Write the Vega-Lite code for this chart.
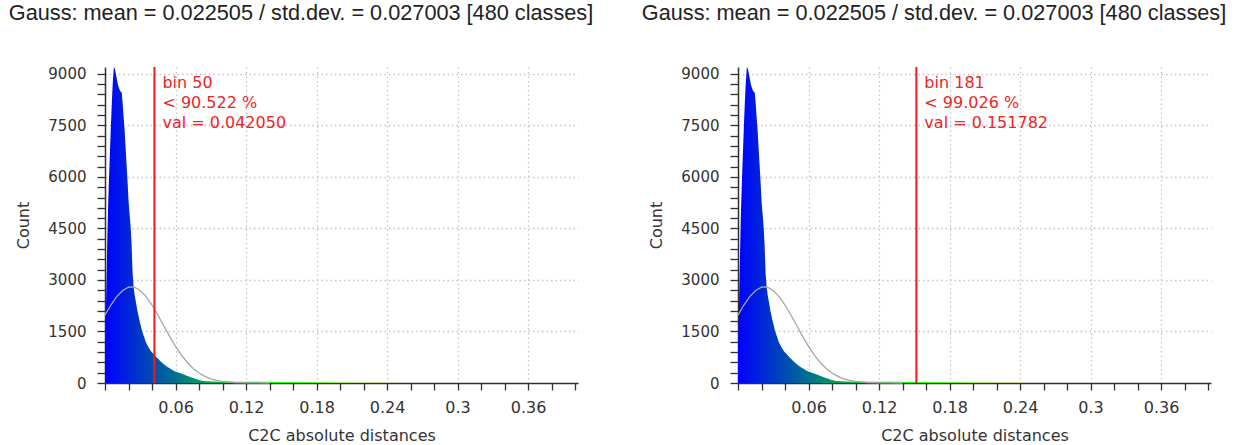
{
  "$schema": "https://vega.github.io/schema/vega-lite/v6.json",
  "padding": {"left": 8, "top": 3, "right": 0, "bottom": 0},
  "spacing": 47,
  "background": "white",
  "config": {
    "view": {"stroke": null},
    "font": "DejaVu Sans",
    "title": {"font": "Liberation Sans", "fontSize": 21.7, "fontWeight": "normal", "color": "#222222", "anchor": "start", "frame": "bounds", "offset": 41},
    "axis": {"domainColor": "#303030", "domainWidth": 1.5, "tickColor": "#303030", "tickWidth": 1.3, "labelFont": "DejaVu Sans", "labelColor": "#333333", "titleFont": "DejaVu Sans", "titleFontSize": 16, "titleFontWeight": "normal", "titleColor": "#333333", "gridColor": "#c4c4c4", "gridDash": [1.5, 3], "gridWidth": 1.3, "labelOverlap": false, "labelFlush": false, "tickCount": 100}
  },
  "datasets": {
    "hist": [
      {"d": 0, "c": 900}, {"d": 0.00084, "c": 2200}, {"d": 0.00168, "c": 3700}, {"d": 0.00252, "c": 5000},
      {"d": 0.00336, "c": 5900}, {"d": 0.0042, "c": 6700}, {"d": 0.00503, "c": 7500}, {"d": 0.00587, "c": 8200},
      {"d": 0.00671, "c": 8800}, {"d": 0.00755, "c": 9200}, {"d": 0.00839, "c": 9150}, {"d": 0.00923, "c": 9000},
      {"d": 0.01007, "c": 8850}, {"d": 0.01091, "c": 8700}, {"d": 0.01175, "c": 8600}, {"d": 0.01259, "c": 8520},
      {"d": 0.01342, "c": 8480}, {"d": 0.01426, "c": 8450}, {"d": 0.0151, "c": 8100}, {"d": 0.01594, "c": 7700},
      {"d": 0.01678, "c": 7300}, {"d": 0.01762, "c": 6800}, {"d": 0.01846, "c": 6300}, {"d": 0.0193, "c": 5800},
      {"d": 0.02014, "c": 5250}, {"d": 0.02098, "c": 4900}, {"d": 0.02181, "c": 4550}, {"d": 0.02265, "c": 4000},
      {"d": 0.02349, "c": 3200}, {"d": 0.02433, "c": 2800}, {"d": 0.02517, "c": 2580}, {"d": 0.02601, "c": 2420},
      {"d": 0.02685, "c": 2250}, {"d": 0.02769, "c": 2080}, {"d": 0.02853, "c": 1950}, {"d": 0.02937, "c": 1820},
      {"d": 0.0302, "c": 1700}, {"d": 0.03104, "c": 1580}, {"d": 0.03188, "c": 1480}, {"d": 0.03272, "c": 1400},
      {"d": 0.03356, "c": 1320}, {"d": 0.0344, "c": 1220}, {"d": 0.03524, "c": 1160}, {"d": 0.03608, "c": 1100},
      {"d": 0.03692, "c": 1050}, {"d": 0.03776, "c": 1000}, {"d": 0.03859, "c": 950}, {"d": 0.03943, "c": 910},
      {"d": 0.04027, "c": 880}, {"d": 0.04111, "c": 850}, {"d": 0.04195, "c": 820}, {"d": 0.04363, "c": 760},
      {"d": 0.04531, "c": 700}, {"d": 0.04698, "c": 640}, {"d": 0.04866, "c": 590}, {"d": 0.05034, "c": 540},
      {"d": 0.05286, "c": 470}, {"d": 0.05537, "c": 420}, {"d": 0.05873, "c": 350}, {"d": 0.06293, "c": 300},
      {"d": 0.06712, "c": 250}, {"d": 0.07132, "c": 190}, {"d": 0.07551, "c": 140}, {"d": 0.07971, "c": 90},
      {"d": 0.0839, "c": 55}, {"d": 0.09229, "c": 42}, {"d": 0.10068, "c": 40}, {"d": 0.11746, "c": 38},
      {"d": 0.13424, "c": 35}, {"d": 0.15102, "c": 32}, {"d": 0.1678, "c": 28}, {"d": 0.18458, "c": 22},
      {"d": 0.20136, "c": 16}, {"d": 0.21814, "c": 10}, {"d": 0.23492, "c": 6}, {"d": 0.2517, "c": 3},
      {"d": 0.27687, "c": 1}, {"d": 0.31882, "c": 0}, {"d": 0.36077, "c": 0}, {"d": 0.4025, "c": 0}
    ],
    "gauss": [
      {"d": 0, "g": 1978}, {"d": 0.005, "g": 2270}, {"d": 0.01, "g": 2515}, {"d": 0.015, "g": 2694},
      {"d": 0.02, "g": 2788}, {"d": 0.0225, "g": 2800}, {"d": 0.025, "g": 2788}, {"d": 0.03, "g": 2694},
      {"d": 0.035, "g": 2515}, {"d": 0.04, "g": 2270}, {"d": 0.045, "g": 1979}, {"d": 0.05, "g": 1667},
      {"d": 0.055, "g": 1357}, {"d": 0.06, "g": 1068}, {"d": 0.065, "g": 811}, {"d": 0.07, "g": 596},
      {"d": 0.075, "g": 423}, {"d": 0.08, "g": 290}, {"d": 0.085, "g": 192}, {"d": 0.09, "g": 123},
      {"d": 0.095, "g": 76}, {"d": 0.1, "g": 46}, {"d": 0.11, "g": 15}, {"d": 0.12, "g": 4},
      {"d": 0.13, "g": 1}, {"d": 0.14, "g": 0}
    ]
  },
  "hconcat": [
    {
      "width": 473, "height": 316,
      "title": {"text": "Gauss: mean = 0.022505 / std.dev. = 0.027003 [480 classes]", "dx": -7},
      "layer": [
        {
          "data": {"name": "hist"},
          "mark": {"type": "area", "interpolate": "linear", "color": {"gradient": "linear", "x1": 0, "y1": 0, "x2": 1, "y2": 0, "stops": [{"offset": 0, "color": "#0000ff"}, {"offset": 0.333, "color": "#00ff00"}, {"offset": 0.667, "color": "#ffff00"}, {"offset": 1, "color": "#ff0000"}]}},
          "encoding": {
            "x": {"field": "d", "type": "quantitative", "scale": {"domain": [0, 0.4025], "nice": false, "zero": false},
              "axis": {"title": "C2C absolute distances", "values": [0, 0.02, 0.04, 0.06, 0.08, 0.1, 0.12, 0.14, 0.16, 0.18, 0.2, 0.22, 0.24, 0.26, 0.28, 0.3, 0.32, 0.34, 0.36, 0.38, 0.4],
                "labelExpr": "datum.value > 0.001 && abs(datum.value / 0.06 - round(datum.value / 0.06)) < 0.01 ? format(datum.value, '~g') : ''",
                "gridOpacity": {"condition": {"test": "datum.value > 0.001 && abs(datum.value / 0.06 - round(datum.value / 0.06)) < 0.01", "value": 1}, "value": 0},
                "tickSize": 7, "labelPadding": 9, "labelFontSize": 16, "titlePadding": 12}},
            "y": {"field": "c", "type": "quantitative", "scale": {"domain": [0, 9200], "nice": false},
              "axis": {"title": "Count", "values": [0, 300, 600, 900, 1200, 1500, 1800, 2100, 2400, 2700, 3000, 3300, 3600, 3900, 4200, 4500, 4800, 5100, 5400, 5700, 6000, 6300, 6600, 6900, 7200, 7500, 7800, 8100, 8400, 8700, 9000],
                "labelExpr": "datum.value % 1500 == 0 ? format(datum.value, 'd') : ''",
                "gridOpacity": {"condition": {"test": "datum.value % 1500 == 0 && datum.value > 0", "value": 1}, "value": 0},
                "tickSize": 8, "labelPadding": 11, "labelFontSize": 15, "titlePadding": 16}}
          }
        },
        {
          "data": {"name": "gauss"},
          "mark": {"type": "line", "color": "#a6a6a6", "strokeWidth": 1.3},
          "encoding": {"x": {"field": "d", "type": "quantitative"}, "y": {"field": "g", "type": "quantitative"}}
        },
        {
          "data": {"values": [{"d": 0.04205, "top": 9200, "label": "bin 50\n< 90.522 %\nval = 0.042050"}]},
          "layer": [
            {"mark": {"type": "rule", "color": "#f01c1c", "strokeWidth": 2}, "encoding": {"x": {"field": "d", "type": "quantitative"}}},
            {"mark": {"type": "text", "align": "left", "baseline": "top", "dx": 8, "dy": 8, "color": "#f02424", "font": "DejaVu Sans", "fontSize": 16, "lineBreak": "\n", "lineHeight": 20},
              "encoding": {"x": {"field": "d", "type": "quantitative"}, "y": {"field": "top", "type": "quantitative"}, "text": {"field": "label"}}}
          ]
        }
      ]
    },
    {
      "width": 473, "height": 316,
      "title": {"text": "Gauss: mean = 0.022505 / std.dev. = 0.027003 [480 classes]", "dx": -7},
      "layer": [
        {
          "data": {"name": "hist"},
          "mark": {"type": "area", "interpolate": "linear", "color": {"gradient": "linear", "x1": 0, "y1": 0, "x2": 1, "y2": 0, "stops": [{"offset": 0, "color": "#0000ff"}, {"offset": 0.333, "color": "#00ff00"}, {"offset": 0.667, "color": "#ffff00"}, {"offset": 1, "color": "#ff0000"}]}},
          "encoding": {
            "x": {"field": "d", "type": "quantitative", "scale": {"domain": [0, 0.4025], "nice": false, "zero": false},
              "axis": {"title": "C2C absolute distances", "values": [0, 0.02, 0.04, 0.06, 0.08, 0.1, 0.12, 0.14, 0.16, 0.18, 0.2, 0.22, 0.24, 0.26, 0.28, 0.3, 0.32, 0.34, 0.36, 0.38, 0.4],
                "labelExpr": "datum.value > 0.001 && abs(datum.value / 0.06 - round(datum.value / 0.06)) < 0.01 ? format(datum.value, '~g') : ''",
                "gridOpacity": {"condition": {"test": "datum.value > 0.001 && abs(datum.value / 0.06 - round(datum.value / 0.06)) < 0.01", "value": 1}, "value": 0},
                "tickSize": 7, "labelPadding": 9, "labelFontSize": 16, "titlePadding": 12}},
            "y": {"field": "c", "type": "quantitative", "scale": {"domain": [0, 9200], "nice": false},
              "axis": {"title": "Count", "values": [0, 300, 600, 900, 1200, 1500, 1800, 2100, 2400, 2700, 3000, 3300, 3600, 3900, 4200, 4500, 4800, 5100, 5400, 5700, 6000, 6300, 6600, 6900, 7200, 7500, 7800, 8100, 8400, 8700, 9000],
                "labelExpr": "datum.value % 1500 == 0 ? format(datum.value, 'd') : ''",
                "gridOpacity": {"condition": {"test": "datum.value % 1500 == 0 && datum.value > 0", "value": 1}, "value": 0},
                "tickSize": 8, "labelPadding": 11, "labelFontSize": 15, "titlePadding": 16}}
          }
        },
        {
          "data": {"name": "gauss"},
          "mark": {"type": "line", "color": "#a6a6a6", "strokeWidth": 1.3},
          "encoding": {"x": {"field": "d", "type": "quantitative"}, "y": {"field": "g", "type": "quantitative"}}
        },
        {
          "data": {"values": [{"d": 0.151782, "top": 9200, "label": "bin 181\n< 99.026 %\nval = 0.151782"}]},
          "layer": [
            {"mark": {"type": "rule", "color": "#f01c1c", "strokeWidth": 2}, "encoding": {"x": {"field": "d", "type": "quantitative"}}},
            {"mark": {"type": "text", "align": "left", "baseline": "top", "dx": 8, "dy": 8, "color": "#f02424", "font": "DejaVu Sans", "fontSize": 16, "lineBreak": "\n", "lineHeight": 20},
              "encoding": {"x": {"field": "d", "type": "quantitative"}, "y": {"field": "top", "type": "quantitative"}, "text": {"field": "label"}}}
          ]
        }
      ]
    }
  ]
}
